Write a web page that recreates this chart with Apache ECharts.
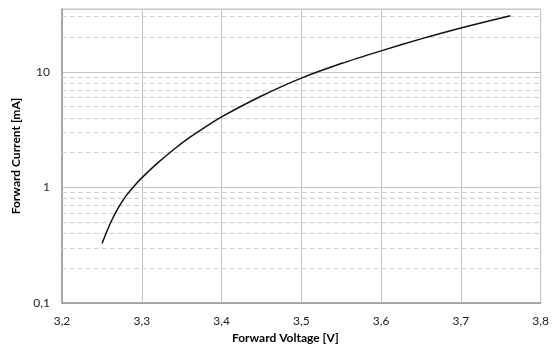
<!DOCTYPE html>
<html>
<head>
<meta charset="utf-8">
<script src="https://cdn.jsdelivr.net/npm/echarts@6/dist/echarts.min.js"></script>
<style>
  html, body { margin: 0; padding: 0; background: #fff; }
  #chart { width: 552px; height: 349px; }
</style>
</head>
<body>
<div id="chart"></div>
<script>
// forward voltage [V] vs forward current [mA]
const voltage = [3.2502, 3.26, 3.27, 3.28, 3.29, 3.30, 3.32, 3.34, 3.36, 3.38, 3.40, 3.45, 3.50, 3.55, 3.60, 3.65, 3.70, 3.762]
const current = [0.327, 0.48, 0.655, 0.84, 1.02, 1.21, 1.63, 2.13, 2.71, 3.35, 4.08, 6.18, 8.83, 11.8, 15.2, 19.3, 24.0, 30.6]

// minor (dashed) gridlines on the log axis
const minorLines = [0.2, 0.3, 0.4, 0.5, 0.6, 0.7, 0.8, 0.9, 2, 3, 4, 5, 6, 7, 8, 9, 20, 30]

const chart = echarts.init(document.getElementById('chart'))
const fontFamily = 'Lato, "Open Sans", sans-serif'
const comma = v => String(v).replace('.', ',')

chart.setOption({
  animation: false,
  textStyle: { fontFamily },
  grid: {
    left: 62, right: 9, top: 9, bottom: 44,
    show: true, borderColor: '#c4c4c4', borderWidth: 1
  },
  xAxis: {
    type: 'value',
    min: 3.2, max: 3.8, interval: 0.1,
    name: 'Forward Voltage [V]',
    nameLocation: 'middle', nameGap: 29,
    nameTextStyle: { fontFamily, fontSize: 12, fontWeight: 'bold', color: '#000', padding: [0, 32, 0, 0] },
    axisLine: { lineStyle: { color: '#999', width: 1.5 } },
    axisTick: { show: false },
    axisLabel: { margin: 12, fontSize: 12, color: '#222', formatter: v => v.toFixed(1).replace('.', ',') },
    splitLine: { lineStyle: { color: '#c4c4c4' } }
  },
  yAxis: {
    type: 'log', logBase: 10,
    min: 0.1, max: 35, interval: 1,
    name: 'Forward Current [mA]',
    nameLocation: 'middle', nameGap: 40,
    nameTextStyle: { fontFamily, fontSize: 12, fontWeight: 'bold', color: '#000' },
    axisLine: { show: true, lineStyle: { color: '#999', width: 1.5 } },
    axisTick: { show: false },
    axisLabel: {
      margin: 12, fontSize: 12, color: '#222',
      formatter: v => {
        const l = Math.log10(v)
        return Math.abs(l - Math.round(l)) < 1e-6 ? comma(Number(v.toPrecision(3))) : ''
      }
    },
    splitLine: { lineStyle: { color: '#c4c4c4' } }
  },
  series: [
    {
      // holder for the dashed minor gridlines, kept under the curve
      type: 'line',
      data: [],
      z: 1,
      markLine: {
        silent: true,
        symbol: 'none',
        label: { show: false },
        lineStyle: { color: '#cfcfcf', type: [5, 3], width: 1 },
        data: minorLines.map(y => ({ yAxis: y }))
      }
    },
    {
      type: 'line',
      data: voltage.map((v, i) => [v, current[i]]),
      smooth: 0.25,
      showSymbol: false,
      lineStyle: { color: '#111', width: 1.5 },
      z: 5
    }
  ]
})
</script>
</body>
</html>
